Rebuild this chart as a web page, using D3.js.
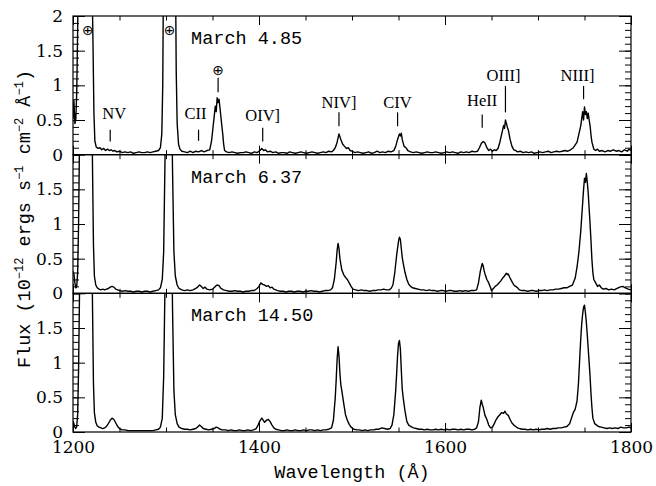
<!DOCTYPE html>
<html>
<head>
<meta charset="utf-8">
<script src="https://cdn.jsdelivr.net/npm/d3@7"></script>
<style>
  body { margin: 0; background: #fff; }
  .tick text { font-family: "DejaVu Serif", serif; font-size: 17px; fill: #000; }
  .tick line { stroke: #000; stroke-width: 1; }
</style>
</head>
<body>
<div id="chart"></div>
<script>

// observation epochs, top to bottom
const epochs = ["March 4.85", "March 6.37", "March 14.50"];

// [wavelength (A), flux (1e-12 erg/s/cm2/A)]
const march485 = [
  [1200,0.52],[1201,0.78],[1202,0.45],[1203,0.5],[1204,0.9],[1205,1.8],[1206,3],[1220,3],[1221.5,1.6],[1222.5,0.6],
  [1223.5,0.2],[1225,0.11],[1227,0.09],[1229,0.1],[1231,0.07],[1233,0.09],[1235,0.06],[1237,0.08],[1239,0.06],[1241,0.07],
  [1243,0.05],[1245,0.06],[1247,0.04],[1250,0.05],[1253,0.03],[1256,0.04],[1259,0.03],[1262,0.04],[1265,0.02],[1268,0.03],
  [1271,0.04],[1274,0.03],[1277,0.03],[1280,0.04],[1283,0.03],[1286,0.04],[1289,0.05],[1292,0.06],[1294,0.1],[1295.5,0.3],
  [1296.5,1.0],[1297.5,3],[1310,3],[1311,1.2],[1312,0.45],[1313.5,0.15],[1315,0.08],[1317,0.05],[1320,0.04],[1323,0.03],
  [1326,0.05],[1329,0.03],[1332,0.05],[1335,0.04],[1338,0.06],[1341,0.04],[1344,0.06],[1347,0.07],[1349,0.2],[1351,0.45],
  [1353,0.7],[1354,0.62],[1355,0.82],[1356,0.75],[1357,0.8],[1358,0.68],[1359,0.55],[1360,0.42],[1361,0.3],[1362,0.15],
  [1363,0.06],[1365,0.04],[1368,0.03],[1371,0.04],[1374,0.03],[1377,0.02],[1380,0.03],[1383,0.03],[1386,0.04],[1389,0.03],
  [1392,0.02],[1395,0.04],[1398,0.03],[1401,0.06],[1403,0.09],[1405,0.06],[1407,0.07],[1409,0.04],[1412,0.05],[1415,0.03],
  [1418,0.04],[1421,0.02],[1424,0.03],[1427,0.03],[1430,0.02],[1433,0.04],[1436,0.03],[1439,0.02],[1442,0.03],[1445,0.04],
  [1448,0.03],[1451,0.02],[1454,0.03],[1457,0.04],[1460,0.03],[1463,0.02],[1466,0.03],[1469,0.04],[1472,0.03],[1475,0.05],
  [1478,0.04],[1480,0.06],[1482,0.1],[1484,0.18],[1486,0.3],[1487,0.26],[1488,0.22],[1490,0.15],[1492,0.12],[1494,0.09],
  [1496,0.1],[1498,0.06],[1500,0.05],[1503,0.03],[1506,0.04],[1509,0.03],[1512,0.02],[1515,0.03],[1518,0.04],[1521,0.02],
  [1524,0.03],[1527,0.05],[1530,0.03],[1533,0.04],[1536,0.03],[1539,0.05],[1542,0.04],[1545,0.06],[1547,0.12],[1549,0.22],
  [1551,0.3],[1552,0.27],[1553,0.31],[1554,0.22],[1556,0.12],[1558,0.1],[1560,0.06],[1563,0.04],[1566,0.03],[1569,0.04],
  [1572,0.03],[1575,0.02],[1578,0.03],[1581,0.04],[1584,0.03],[1587,0.03],[1590,0.04],[1593,0.03],[1596,0.02],[1599,0.03],
  [1602,0.04],[1605,0.03],[1608,0.04],[1611,0.03],[1614,0.02],[1617,0.04],[1620,0.03],[1623,0.04],[1626,0.03],[1629,0.05],
  [1632,0.04],[1635,0.05],[1637,0.1],[1639,0.16],[1641,0.19],[1643,0.17],[1645,0.1],[1647,0.06],[1649,0.08],[1651,0.05],
  [1653,0.07],[1655,0.06],[1657,0.09],[1659,0.18],[1661,0.3],[1663,0.42],[1664,0.38],[1665,0.5],[1666,0.45],[1667,0.4],
  [1668,0.36],[1670,0.22],[1672,0.12],[1674,0.07],[1676,0.06],[1678,0.04],[1681,0.05],[1684,0.03],[1687,0.04],[1690,0.03],
  [1693,0.04],[1696,0.02],[1699,0.03],[1702,0.04],[1705,0.03],[1708,0.04],[1711,0.05],[1714,0.03],[1717,0.04],[1720,0.05],
  [1723,0.04],[1726,0.05],[1729,0.06],[1732,0.05],[1735,0.07],[1738,0.1],[1740,0.14],[1742,0.18],[1744,0.3],[1746,0.42],
  [1748,0.62],[1749,0.5],[1750,0.69],[1751,0.58],[1752,0.62],[1753,0.52],[1754,0.6],[1755,0.5],[1756,0.42],[1757,0.28],
  [1758,0.18],[1760,0.08],[1762,0.06],[1764,0.08],[1766,0.05],[1769,0.06],[1772,0.04],[1775,0.06],[1778,0.05],[1781,0.07],
  [1784,0.05],[1787,0.06],[1790,0.04],[1793,0.07],[1796,0.05],[1798,0.08],[1800,0.06]
];

const march637 = [
  [1200,0.32],[1201,0.28],[1202,0.15],[1203,0.08],[1204,0.1],[1205,0.3],[1206,1.0],[1207,2.2],[1208,3],[1220,3],
  [1221,1.8],[1222,0.7],[1223,0.25],[1224.5,0.12],[1226,0.08],[1228,0.06],[1230,0.05],[1232,0.06],[1234,0.05],[1236,0.06],
  [1238,0.07],[1240,0.09],[1242,0.1],[1244,0.09],[1246,0.06],[1248,0.05],[1250,0.04],[1253,0.03],[1256,0.04],[1259,0.03],
  [1262,0.03],[1265,0.02],[1268,0.03],[1271,0.03],[1274,0.02],[1277,0.03],[1280,0.03],[1283,0.02],[1286,0.03],[1289,0.04],
  [1292,0.05],[1294,0.08],[1296,0.2],[1297.5,0.6],[1299,2.0],[1300,3],[1306,3],[1307,1.8],[1308.5,0.6],[1310,0.25],
  [1312,0.12],[1314,0.07],[1317,0.05],[1320,0.04],[1323,0.05],[1326,0.04],[1329,0.05],[1332,0.07],[1334,0.09],[1336,0.12],
  [1338,0.1],[1340,0.07],[1342,0.09],[1344,0.06],[1347,0.05],[1350,0.06],[1353,0.1],[1355,0.12],[1357,0.11],[1359,0.07],
  [1362,0.05],[1365,0.04],[1368,0.03],[1371,0.03],[1374,0.04],[1377,0.03],[1380,0.03],[1383,0.02],[1386,0.03],[1389,0.03],
  [1392,0.04],[1395,0.04],[1398,0.07],[1400,0.1],[1402,0.15],[1404,0.13],[1406,0.12],[1408,0.1],[1410,0.11],[1412,0.08],
  [1414,0.09],[1416,0.06],[1418,0.05],[1420,0.04],[1423,0.03],[1426,0.03],[1429,0.02],[1432,0.03],[1435,0.03],[1438,0.02],
  [1441,0.03],[1444,0.03],[1447,0.02],[1450,0.03],[1453,0.03],[1456,0.04],[1459,0.03],[1462,0.03],[1465,0.02],[1468,0.03],
  [1471,0.04],[1474,0.04],[1477,0.05],[1479,0.08],[1481,0.2],[1483,0.45],[1484,0.62],[1485,0.72],[1486,0.65],[1487,0.5],
  [1488,0.42],[1489,0.34],[1491,0.27],[1493,0.23],[1495,0.2],[1497,0.15],[1499,0.1],[1501,0.06],[1504,0.05],[1507,0.04],
  [1510,0.05],[1513,0.04],[1516,0.04],[1519,0.03],[1522,0.04],[1525,0.04],[1528,0.05],[1531,0.05],[1534,0.06],[1537,0.05],
  [1540,0.05],[1542,0.07],[1544,0.12],[1546,0.3],[1548,0.55],[1550,0.75],[1551,0.81],[1552,0.78],[1553,0.65],[1554,0.52],
  [1555,0.44],[1557,0.3],[1559,0.2],[1561,0.13],[1563,0.1],[1565,0.08],[1568,0.07],[1571,0.06],[1574,0.05],[1577,0.05],
  [1580,0.04],[1583,0.05],[1586,0.04],[1589,0.04],[1592,0.03],[1595,0.04],[1598,0.04],[1601,0.03],[1604,0.04],[1607,0.04],
  [1610,0.03],[1613,0.03],[1616,0.04],[1619,0.03],[1622,0.04],[1625,0.03],[1628,0.04],[1631,0.04],[1634,0.05],[1636,0.15],
  [1638,0.32],[1640,0.43],[1641,0.4],[1642,0.33],[1643,0.28],[1645,0.2],[1647,0.15],[1649,0.08],[1650,0.04],[1652,0.07],
  [1654,0.1],[1656,0.12],[1658,0.15],[1660,0.18],[1662,0.22],[1664,0.25],[1666,0.29],[1667,0.27],[1668,0.28],[1670,0.22],
  [1672,0.17],[1674,0.12],[1676,0.1],[1678,0.08],[1680,0.05],[1683,0.04],[1686,0.04],[1689,0.03],[1692,0.04],[1695,0.04],
  [1698,0.03],[1701,0.04],[1704,0.04],[1707,0.05],[1710,0.04],[1713,0.05],[1716,0.05],[1719,0.06],[1722,0.06],[1725,0.07],
  [1728,0.08],[1731,0.08],[1734,0.1],[1737,0.12],[1740,0.22],[1742,0.38],[1744,0.6],[1746,0.9],[1747,1.1],[1748,1.3],
  [1749,1.5],[1750,1.66],[1751,1.6],[1752,1.73],[1753,1.6],[1754,1.45],[1755,1.22],[1756,1.0],[1757,0.75],[1758,0.48],
  [1759,0.3],[1760,0.2],[1762,0.15],[1764,0.1],[1766,0.12],[1768,0.08],[1770,0.06],[1773,0.07],[1776,0.05],[1779,0.06],
  [1782,0.05],[1785,0.07],[1788,0.09],[1791,0.1],[1794,0.08],[1797,0.06],[1800,0.05]
];

const march1450 = [
  [1200,0.16],[1201,0.12],[1202,0.07],[1203,0.05],[1204,0.08],[1205,0.25],[1206,0.9],[1207,2.0],[1208,3],[1220,3],
  [1221,1.8],[1222,0.7],[1223,0.28],[1224.5,0.14],[1226,0.09],[1228,0.07],[1230,0.06],[1232,0.05],[1234,0.06],[1236,0.08],
  [1238,0.12],[1240,0.17],[1242,0.2],[1244,0.18],[1246,0.13],[1248,0.08],[1250,0.05],[1253,0.03],[1256,0.03],[1259,0.02],
  [1262,0.02],[1265,0.02],[1268,0.02],[1271,0.02],[1274,0.02],[1277,0.02],[1280,0.02],[1283,0.02],[1286,0.02],[1289,0.03],
  [1292,0.04],[1294,0.07],[1296,0.2],[1297.5,0.8],[1299,2.2],[1300,3],[1306,3],[1307,1.8],[1308.5,0.6],[1310,0.25],
  [1312,0.12],[1314,0.07],[1317,0.05],[1320,0.04],[1323,0.04],[1326,0.03],[1329,0.04],[1332,0.05],[1334,0.07],[1336,0.1],
  [1338,0.08],[1340,0.05],[1343,0.04],[1346,0.03],[1349,0.04],[1352,0.05],[1354,0.07],[1356,0.06],[1358,0.04],[1361,0.03],
  [1364,0.03],[1367,0.02],[1370,0.03],[1373,0.02],[1376,0.02],[1379,0.03],[1382,0.02],[1385,0.02],[1388,0.03],[1391,0.02],
  [1394,0.03],[1397,0.05],[1399,0.1],[1401,0.16],[1403,0.2],[1405,0.16],[1406,0.14],[1408,0.17],[1410,0.18],[1412,0.15],
  [1414,0.1],[1416,0.06],[1418,0.04],[1421,0.03],[1424,0.02],[1427,0.02],[1430,0.03],[1433,0.02],[1436,0.02],[1439,0.03],
  [1442,0.02],[1445,0.02],[1448,0.03],[1451,0.02],[1454,0.03],[1457,0.03],[1460,0.02],[1463,0.03],[1466,0.02],[1469,0.03],
  [1472,0.03],[1475,0.04],[1478,0.06],[1480,0.17],[1482,0.5],[1483,0.75],[1484,1.05],[1485,1.23],[1486,1.1],[1487,0.85],
  [1488,0.68],[1489,0.6],[1491,0.42],[1493,0.25],[1495,0.17],[1497,0.11],[1499,0.07],[1502,0.04],[1505,0.03],[1508,0.03],
  [1511,0.02],[1514,0.03],[1517,0.02],[1520,0.03],[1523,0.03],[1526,0.04],[1529,0.04],[1532,0.06],[1535,0.05],[1538,0.04],
  [1541,0.05],[1543,0.1],[1545,0.25],[1547,0.6],[1548,0.84],[1549,1.1],[1550,1.28],[1551,1.32],[1552,1.2],[1553,0.9],
  [1554,0.62],[1555,0.5],[1557,0.3],[1559,0.15],[1561,0.1],[1563,0.08],[1566,0.06],[1569,0.05],[1572,0.04],[1575,0.04],
  [1578,0.03],[1581,0.04],[1584,0.03],[1587,0.03],[1590,0.04],[1593,0.03],[1596,0.04],[1599,0.03],[1602,0.04],[1605,0.03],
  [1608,0.04],[1611,0.04],[1614,0.03],[1617,0.04],[1620,0.03],[1623,0.04],[1626,0.04],[1629,0.03],[1632,0.04],[1634,0.06],
  [1636,0.15],[1637.5,0.35],[1639,0.46],[1640,0.4],[1641,0.36],[1643,0.24],[1645,0.18],[1647,0.1],[1649,0.06],[1651,0.07],
  [1653,0.12],[1655,0.18],[1657,0.22],[1659,0.25],[1661,0.28],[1663,0.27],[1664.5,0.3],[1666,0.26],[1668,0.24],[1670,0.18],
  [1672,0.13],[1674,0.1],[1676,0.08],[1678,0.06],[1680,0.05],[1683,0.04],[1686,0.04],[1689,0.03],[1692,0.04],[1695,0.03],
  [1698,0.04],[1701,0.03],[1704,0.04],[1707,0.04],[1710,0.05],[1713,0.04],[1716,0.05],[1719,0.05],[1722,0.06],[1725,0.06],
  [1728,0.07],[1731,0.08],[1734,0.12],[1736,0.2],[1738,0.28],[1740,0.33],[1742,0.45],[1743.5,0.7],[1745,1.1],[1746,1.35],
  [1747,1.56],[1748,1.7],[1749,1.8],[1750,1.83],[1751,1.72],[1752,1.58],[1753,1.4],[1754,1.2],[1755,1.0],[1756,0.8],
  [1757,0.55],[1758,0.35],[1759,0.2],[1761,0.12],[1763,0.1],[1765,0.08],[1768,0.07],[1771,0.06],[1774,0.05],[1777,0.06],
  [1780,0.05],[1783,0.06],[1786,0.05],[1789,0.07],[1792,0.06],[1795,0.06],[1798,0.07],[1800,0.06]
];

const spectra = [march485, march637, march1450];

// line identifications marked in the top panel
const lineNames = ["NV", "CII", "\u2295", "OIV]", "NIV]", "CIV", "HeII", "OIII]", "NIII]"];
const lineWaves = [1240, 1335, 1356, 1404, 1486, 1549, 1640, 1665, 1749];
// geocoronal markers above the saturated lines
const geoWaves = [1216, 1304];

const xTicks = [1200, 1400, 1600, 1800];
const yTicks = [0, 0.5, 1, 1.5, 2];

// annotation layout, in flux units of the top panel: [label baseline, tick top, tick bottom, label dx]
const labelLayout = [
  [0.51, 0.36, 0.19, 4], [0.51, 0.36, 0.20, -3], [1.15, 1.11, 0.90, 0], [0.48, 0.39, 0.19, 0],
  [0.68, 0.61, 0.41, 0], [0.68, 0.61, 0.41, 0], [0.70, 0.58, 0.39, 0], [1.06, 0.99, 0.61, -2],
  [1.06, 0.99, 0.80, -6]
];

const margin = { top: 16, left: 73, right: 25, bottom: 54 };
const width = 656, height = 486;
const plotW = width - margin.left - margin.right;
const panelH = (height - margin.top - margin.bottom) / 3;

const svg = d3.select("#chart").append("svg")
    .attr("width", width)
    .attr("height", height);

const x = d3.scaleLinear().domain([1200, 1800]).range([margin.left, margin.left + plotW]);

const line = d3.line();

spectra.forEach((data, i) => {

    const top = margin.top + i * panelH;
    const y = d3.scaleLinear().domain([0, 2]).range([top + panelH, top]);
    const g = svg.append("g").attr("class", "panel");

    g.append("clipPath")
        .attr("id", "clip" + i)
        .append("rect")
        .attr("x", margin.left)
        .attr("y", top)
        .attr("width", plotW)
        .attr("height", panelH);

    g.append("path")
        .attr("d", line.x(d => x(d[0])).y(d => y(d[1]))(data))
        .attr("fill", "none")
        .attr("stroke", "#000")
        .attr("stroke-width", 1.4)
        .attr("stroke-linejoin", "round")
        .attr("clip-path", "url(#clip" + i + ")");

    // minor and major ticks on all four sides, pointing inwards
    const yMinor = d3.range(0, 2.001, 0.1).map(v => +v.toFixed(1));
    const xMinor = d3.range(1200, 1801, 50);

    g.append("g").attr("transform", "translate(" + margin.left + ",0)")
        .call(d3.axisLeft(y).tickValues(yMinor).tickSize(-6).tickFormat(""));
    g.append("g").attr("transform", "translate(" + margin.left + ",0)")
        .call(d3.axisLeft(y).tickValues(i === 0 ? yTicks : yTicks.slice(0, 4))
            .tickSize(-12).tickPadding(10).tickFormat(d3.format("")));
    g.append("g").attr("transform", "translate(" + (margin.left + plotW) + ",0)")
        .call(d3.axisRight(y).tickValues(yMinor).tickSize(-6).tickFormat(""));
    g.append("g").attr("transform", "translate(" + (margin.left + plotW) + ",0)")
        .call(d3.axisRight(y).tickValues(yTicks).tickSize(-12).tickFormat(""));

    g.append("g").attr("transform", "translate(0," + top + ")")
        .call(d3.axisTop(x).tickValues(xMinor).tickSize(-4.5).tickFormat(""));
    g.append("g").attr("transform", "translate(0," + top + ")")
        .call(d3.axisTop(x).tickValues(xTicks).tickSize(-9).tickFormat(""));
    g.append("g").attr("transform", "translate(0," + (top + panelH) + ")")
        .call(d3.axisBottom(x).tickValues(xMinor).tickSize(-4.5).tickFormat(""));
    g.append("g").attr("transform", "translate(0," + (top + panelH) + ")")
        .call(d3.axisBottom(x).tickValues(xTicks).tickSize(-9).tickPadding(9)
            .tickFormat(i === 2 ? d3.format("") : ""));

    g.selectAll(".domain").remove();

    g.append("rect")
        .attr("x", margin.left)
        .attr("y", top)
        .attr("width", plotW)
        .attr("height", panelH)
        .attr("fill", "none")
        .attr("stroke", "#000")
        .attr("stroke-width", 1.2);

    g.append("text")
        .attr("x", x(1327))
        .attr("y", top + 28)
        .attr("font-family", "Liberation Mono, monospace")
        .attr("font-size", 18.5)
        .text(epochs[i]);

    if (i === 0) {
        lineWaves.forEach((w, k) => {
            const [ty, t1, t2, dx] = labelLayout[k];
            g.append("line")
                .attr("x1", x(w)).attr("x2", x(w))
                .attr("y1", y(t1)).attr("y2", y(t2))
                .attr("stroke", "#000")
                .attr("stroke-width", 1.2);
            const geo = lineNames[k] === "\u2295";
            g.append("text")
                .attr("x", x(w) + dx)
                .attr("y", y(ty))
                .attr("text-anchor", "middle")
                .attr("font-family", geo ? "DejaVu Sans" : "Liberation Serif, serif")
                .attr("font-size", geo ? 14 : 16.5)
                .text(lineNames[k]);
        });
        geoWaves.forEach(w => {
            g.append("text")
                .attr("x", x(w))
                .attr("y", y(1.73))
                .attr("text-anchor", "middle")
                .attr("font-family", "DejaVu Sans")
                .attr("font-size", 14)
                .text("\u2295");
        });
    }
});

// axis titles
svg.append("text")
    .attr("x", margin.left + plotW / 2)
    .attr("y", height - 8)
    .attr("text-anchor", "middle")
    .attr("font-family", "Liberation Mono, monospace")
    .attr("font-size", 18.5)
    .text("Wavelength (\u00C5)");

const yTitle = svg.append("text")
    .attr("transform", "translate(30," + 219 + ") rotate(-90)")
    .attr("text-anchor", "middle")
    .attr("font-family", "Liberation Mono, monospace")
    .attr("font-size", 18.5);

const parts = [
    ["Flux (10", 0], ["\u221212", 1], [" ergs s", 0], ["\u22121", 1],
    [" cm", 0], ["\u22122", 1], [" \u00C5", 0], ["\u22121", 1], [")", 0]
];
let shifted = false;
parts.forEach(([t, sup]) => {
    const ts = yTitle.append("tspan").text(t);
    if (sup && !shifted) { ts.attr("dy", -7).attr("font-size", 12); shifted = true; }
    else if (sup) { ts.attr("font-size", 12); }
    else if (shifted) { ts.attr("dy", 7); shifted = false; }
});

</script>
</body>
</html>
